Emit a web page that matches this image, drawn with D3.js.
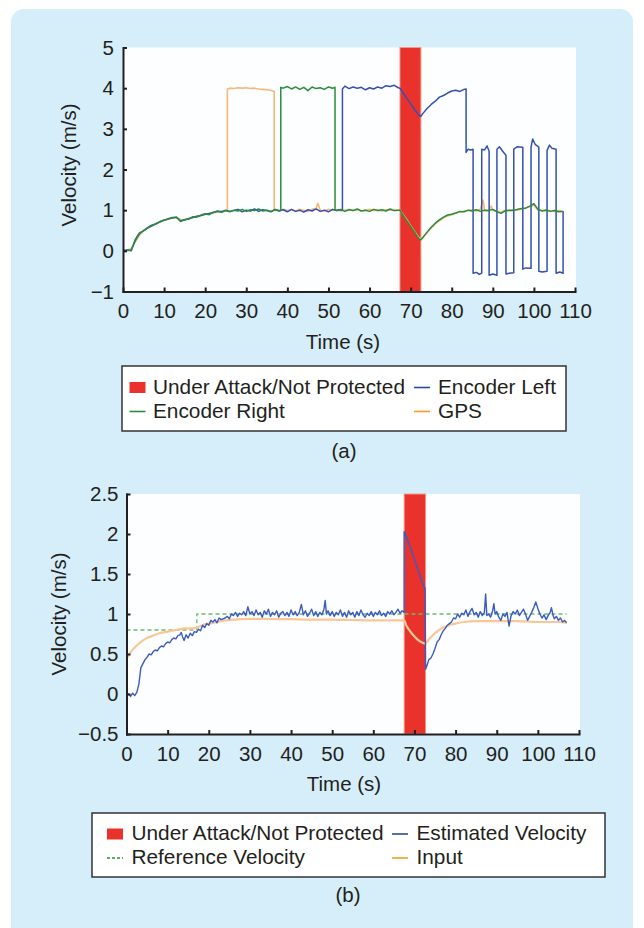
<!DOCTYPE html>
<html>
<head>
<meta charset="utf-8">
<script src="https://cdn.jsdelivr.net/npm/d3@7"></script>
<style>
  body { margin: 0; background: #fff; }
  svg { display: block; font-family: "Liberation Sans", Arial, Helvetica, sans-serif; }
  text { fill: #231f20; }
</style>
</head>
<body>
<div id="fig"></div>
<script>
// ---- data, panel (a) ----
var ticksXA = [0, 10, 20, 30, 40, 50, 60, 70, 80, 90, 100, 110];
var ticksYA = [-1, 0, 1, 2, 3, 4, 5];
var attackA = [67.4, 72.5];
var legendA = ["Under Attack/Not Protected", "Encoder Left", "Encoder Right", "GPS"];

var gpsA = [[0,0.0],[1,0.02],[2,0.06],[3,0.22],[4,0.38],[5,0.49],[6,0.56],[7,0.62],[8,0.67],[9,0.71],[10,0.75],[11,0.78],[12,0.8],[13,0.82],[14,0.77],[15,0.76],[16,0.8],[17,0.82],[18,0.85],[19,0.87],[20,0.9],[21,0.91],[22,0.94],[23,0.95],[24,0.97],[25,0.98],[25.4,0.98],
  [25.4,3.98],[26,4.0],[27,3.99],[28,4.01],[29,4.0],[30,4.01],[31,3.99],[32,4.0],[33,3.98],[34,3.97],[35,3.96],[36,3.95],[36.8,3.92],
  [36.8,0.99],[37,1.0],[38,0.98],[39,1.02],[40,0.99],[41,1.01],[42,0.98],[43,1.02],[44,1.0],[45,0.97],[46,1.02],[47,1.04],[47.4,1.17],[48,1.0],[49,0.98],[50,1.02],[51,0.99],[52,1.01],[53,0.98],[54,1.0],[55,1.02],[56,0.99],[57,1.01],[58,0.98],[59,1.0],[60,1.02],[61,0.99],[62,1.0],[63,0.98],[64,1.01],[65,1.0],[66,0.99],[67,1.0],[67.4,1.0],
  [68,0.92],[69,0.78],[70,0.62],[71,0.47],[72,0.33],[72.5,0.29],[73,0.33],[74,0.44],[75,0.56],[76,0.66],[77,0.74],[78,0.81],[79,0.86],[80,0.89],[81,0.93],[82,0.95],[83,0.97],[84,0.99],[85,1.01],[86,0.98],[87,1.03],[87.6,1.25],[88,1.0],[89,0.98],[89.6,1.1],[90,1.0],[91,0.97],[92,0.95],[93,1.0],[94,0.99],[95,1.01],[96,1.0],[97,1.03],[98,1.06],[99,1.09],[100,1.12],[101,1.0],[102,0.99],[103,1.01],[104,0.98],[105,0.97],[106,0.99],[107,0.98]];

var encLeftA = [[0,0],[1,0.02],[2,0.0],[3,0.28],[4,0.44],[5,0.49],[6,0.57],[7,0.63],[8,0.66],[9,0.72],[10,0.75],[11,0.79],[12,0.82],[13,0.82],[14,0.74],[15,0.76],[16,0.79],[17,0.82],[18,0.85],[19,0.87],[20,0.9],[21,0.92],[22,0.94],[23,0.98],[24,0.96],[25,1.0],[26,0.97],[27,0.99],[28,1.02],[29,0.96],[30,1.0],[31,0.98],[32,1.03],[33,0.97],[34,1.01],[35,0.99],[36,0.96],[37,1.02],[38,0.98],[39,1.01],[40,0.96],[41,1.02],[42,0.97],[43,1.0],[44,0.95],[45,1.01],[46,0.98],[47,1.03],[48,0.97],[49,1.0],[50,0.96],[51,1.02],[52,0.99],[53,1.01],[53.4,1.0],
  [53.4,3.98],[54,4.05],[55,3.99],[56,4.03],[57,4.0],[58,4.02],[59,3.96],[60,4.01],[61,3.98],[62,4.03],[63,4.0],[64,4.06],[65,4.04],[66,4.07],[67,4.01],[67.4,4.0],
  [68,3.9],[69,3.76],[70,3.62],[71,3.47],[72,3.33],[72.5,3.31],[73,3.38],[74,3.5],[75,3.6],[76,3.68],[77,3.78],[78,3.82],[79,3.88],[80,3.93],[81,3.95],[82,3.92],[83,3.97],[83.5,3.98],
  [83.5,2.42],[84,2.5],[84.6,2.48],[85.2,2.5],[85.2,-0.55],[86,-0.53],[86.7,-0.58],[87.3,-0.55],[87.3,2.5],[88,2.48],[88.6,2.58],[89.1,2.45],[89.1,-0.6],[90,-0.57],[91,-0.6],
  [91,2.5],[91.6,2.56],[92.4,2.45],[93.2,2.35],[93.2,-0.57],[94,-0.55],[95.1,-0.54],[95.1,2.5],[96,2.56],[97.3,2.55],[97.3,-0.45],[98,-0.42],[99.3,-0.43],
  [99.3,2.55],[99.7,2.75],[100.3,2.62],[101.2,2.55],[101.2,-0.5],[102,-0.52],[103.2,-0.5],[103.2,2.47],[103.8,2.6],[104.4,2.52],[105.4,2.5],[105.4,-0.55],[106.3,-0.52],[107.1,-0.55],[107.1,0.98]];

var encRightA = [[0,0],[1,0.01],[2,0.02],[3,0.25],[4,0.42],[5,0.5],[6,0.56],[7,0.61],[8,0.67],[9,0.71],[10,0.76],[11,0.78],[12,0.81],[13,0.83],[14,0.72],[15,0.77],[16,0.78],[17,0.84],[18,0.83],[19,0.88],[20,0.91],[21,0.89],[22,0.95],[23,0.97],[24,0.95],[25,0.99],[26,0.96],[27,1.0],[28,0.98],[29,1.02],[30,0.97],[31,1.01],[32,0.99],[33,1.03],[34,0.98],[35,1.0],[36,0.97],[37,1.01],[38,0.99],[38.4,1.0],
  [38.4,4.02],[39,4.0],[40,4.04],[41,3.98],[42,4.03],[43,3.97],[44,4.02],[45,3.94],[46,4.03],[47,3.99],[48,4.01],[49,3.97],[50,4.03],[51,4.0],[51.6,4.02],
  [51.6,1.0],[52,0.99],[53,1.02],[54,0.97],[55,1.01],[56,0.99],[57,1.03],[58,0.98],[59,1.0],[60,0.97],[61,1.02],[62,0.99],[63,1.01],[64,0.98],[65,1.03],[66,0.99],[67,1.0],[67.4,1.0],
  [68,0.9],[69,0.75],[70,0.6],[71,0.45],[72,0.3],[72.5,0.27],[73,0.33],[74,0.46],[75,0.58],[76,0.68],[77,0.76],[78,0.83],[79,0.88],[80,0.9],[81,0.93],[82,0.97],[83,0.96],[84,1.0],[85,0.98],[86,1.01],[87,0.97],[88,1.0],[89,0.99],[90,1.02],[91,0.96],[92,0.92],[93,0.98],[94,1.0],[95,0.99],[96,1.02],[97,1.04],[98,1.05],[99,1.1],[100,1.16],[101,1.02],[102,0.98],[103,1.0],[104,0.97],[105,0.99],[106,0.96],[107,0.97]];

// ---- data, panel (b) ----
var ticksXB = [0, 10, 20, 30, 40, 50, 60, 70, 80, 90, 100, 110];
var ticksYB = [-0.5, 0, 0.5, 1, 1.5, 2, 2.5];
var tickLabelsYB = ["\u22120.5", "0", "0.5", "1", "1.5", "2", "2.5"];
var attackB = [67.5, 72.7];
var legendB = ["Under Attack/Not Protected", "Estimated Velocity", "Reference Velocity", "Input"];

var refVelB = [[0,0.8],[17.1,0.8],[17.1,1.0],[107,1.0]];

var inputB = [[0,0.44],[1,0.52],[2,0.58],[3,0.63],[4,0.67],[5,0.7],[6,0.72],[7,0.74],[8,0.76],[9,0.77],[10,0.78],[11,0.79],[12,0.8],[13,0.81],[14,0.82],[15,0.82],[16,0.82],[17,0.83],[18,0.85],[19,0.87],[20,0.88],[22,0.9],[24,0.92],[26,0.93],[28,0.935],[30,0.94],[35,0.94],[40,0.935],[45,0.93],[50,0.93],[55,0.925],[60,0.92],[65,0.92],[67.5,0.92],
  [68,0.86],[69,0.78],[70,0.72],[71,0.67],[72,0.64],[72.7,0.63],[73,0.65],[74,0.71],[75,0.76],[76,0.8],[77,0.83],[78,0.85],[79,0.87],[80,0.88],[82,0.9],[85,0.91],[90,0.91],[95,0.91],[100,0.9],[105,0.9],[107,0.89]];

var estVelB = [[0,-0.02],[0.5,0.0],[1,-0.03],[1.5,0.01],[2,-0.02],[2.5,0.02],[3,0.12],[3.5,0.33],[4,0.38],[4.5,0.43],[5,0.46],[5.5,0.5],[6,0.49],[6.5,0.53],[7,0.55],[7.5,0.54],[8,0.58],[8.5,0.6],[9,0.59],[9.5,0.63],[10,0.65],[10.5,0.64],[11,0.68],[11.5,0.7],[12,0.69],[12.5,0.73],[13,0.74],[13.3,0.77],[13.6,0.72],[14,0.67],[14.5,0.74],[15,0.7],[15.5,0.76],[16,0.73],[16.5,0.78],[17,0.77],[17.5,0.81],[18,0.79],[18.5,0.86],[19,0.83],[19.5,0.88],[20,0.86],[20.5,0.92],[21,0.9],[21.5,0.93],[22,0.89],[22.5,0.95],[23,0.93],[24,0.95],[24.5,0.97],[25,0.94],[25.5,1.0],
  [26,0.98],[26.5,1.02],[27,0.97],[27.5,1.01],[28,0.99],[28.5,1.03],[29,0.98],[29.5,1.09],[30,1.0],[30.5,1.03],[31,0.98],[31.5,1.05],[32,0.99],[32.5,1.02],[33,0.96],[33.5,1.04],[34,1.0],[34.5,1.06],[35,0.97],[35.5,1.02],[36,0.99],[36.5,1.04],[37,0.96],[37.5,1.01],[38,1.03],[38.5,0.98],[39,1.02],[39.5,0.97],[40,1.05],[40.5,0.99],[41,1.03],[41.5,0.98],[42,1.02],[42.5,1.12],[43,0.99],[43.5,1.04],[44,0.97],[44.5,1.01],[45,1.06],[45.5,0.98],[46,1.03],[46.5,0.97],[47,1.02],[47.5,0.99],[48,1.06],[48.3,1.17],[48.6,1.0],[49,1.04],[49.5,0.98],[50,1.03],[50.5,0.97],[51,1.02],[51.5,0.99],[52,1.05],[52.5,0.97],[53,1.02],[53.5,0.96],[54,1.04],[54.5,0.99],[55,1.02],[55.5,0.96],[56,1.03],[56.5,0.98],[57,1.05],[57.5,0.99],[58,0.96],[58.5,1.01],[59,0.98],[59.5,1.03],[60,0.97],[60.5,1.02],[61,0.99],[61.5,1.04],[62,0.98],[62.5,1.01],[63,0.97],[63.5,1.03],[64,1.0],[64.5,1.04],[65,0.99],[65.5,1.02],[66,1.06],[66.5,1.01],[67,1.04],[67.5,1.02],
  [67.5,2.03],[68,1.97],[68.5,1.9],[69,1.83],[69.5,1.76],[70,1.68],[70.5,1.61],[71,1.53],[71.5,1.45],[72,1.38],[72.6,1.32],[72.7,0.31],[73,0.35],[73.5,0.43],[74,0.45],[74.5,0.5],[75,0.57],[75.5,0.65],[76,0.68],[76.5,0.74],[77,0.79],[77.5,0.82],[78,0.86],[78.5,0.88],[79,0.9],[79.5,0.95],[80,0.94],[80.5,1.0],[81,0.96],[81.5,1.01],[82,0.99],[82.5,1.05],[83,0.97],[83.5,1.03],[84,1.07],[84.5,0.99],[85,1.02],[85.5,0.96],[86,1.03],[86.5,0.98],[87,1.02],[87.3,1.25],[87.6,0.98],[88,1.0],[88.5,0.96],[89,1.04],[89.3,1.13],[89.6,1.0],[90,1.03],[90.5,0.96],[91,0.92],[91.5,1.0],[92,0.97],[92.5,1.02],[93,0.85],[93.5,0.98],[94,1.03],[94.5,1.0],[95,1.05],[95.5,0.98],[96,1.02],[96.5,1.06],[97,1.0],[97.5,0.92],[98,0.97],[98.5,1.02],[99,1.08],[99.5,1.15],[100,1.07],[100.5,1.0],[101,0.95],[101.5,0.99],[102,0.93],[102.5,0.98],[103,1.02],[103.3,1.08],[103.7,0.98],[104,0.94],[104.5,0.97],[105,0.92],[105.5,0.95],[106,0.9],[106.5,0.92],[107,0.89]];

// ---- drawing ----
var W = 644, H = 928;
var ink = "#231f20", red = "#e9322b";

var svg = d3.select("#fig").append("svg").attr("width", W).attr("height", H);

// blue page panel
svg.append("rect").attr("x", 11).attr("y", 9).attr("width", 622).attr("height", 940)
  .attr("rx", 13).attr("fill", "#d5eef9");

function panel(opt) {
  var x = opt.x, y = opt.y;
  var g = svg.append("g");
  var x0 = x.range()[0], x1 = x.range()[1];
  var yTop = y.range()[1], yBot = y.range()[0];

  // white plot background
  g.append("rect").attr("x", x0).attr("y", yTop).attr("width", x1 - x0 + 1).attr("height", yBot - yTop)
    .attr("fill", "#fdfeff");

  // attack band
  g.append("rect").attr("x", x(opt.attack[0])).attr("y", yTop)
    .attr("width", x(opt.attack[1]) - x(opt.attack[0])).attr("height", yBot - yTop)
    .attr("fill", red).attr("stroke", "#f29b86").attr("stroke-width", 1);

  var line = d3.line().x(function(d) { return x(d[0]); }).y(function(d) { return y(d[1]); });

  opt.series.forEach(function(s) {
    g.append("path").datum(s.data)
      .attr("d", line.curve(s.curve || d3.curveLinear)(s.data))
      .attr("fill", "none")
      .attr("stroke", s.color)
      .attr("stroke-width", s.width)
      .attr("stroke-dasharray", s.dash || null)
      .attr("stroke-linejoin", "round");
  });

  // axes
  var ax = g.append("g").attr("transform", "translate(0," + yBot + ")")
    .call(d3.axisBottom(x).tickValues(opt.ticksX).tickSizeInner(-4).tickSizeOuter(0).tickPadding(12));
  var ay = g.append("g").attr("transform", "translate(" + x0 + ",0)")
    .call(d3.axisLeft(y).tickValues(opt.ticksY).tickSizeInner(-4).tickSizeOuter(0).tickPadding(opt.padY)
      .tickFormat(opt.fmtY));
  [ax, ay].forEach(function(a) {
    a.select(".domain").attr("stroke", ink).attr("stroke-width", 2).attr("stroke-linecap", "square");
    a.selectAll(".tick line").attr("stroke", ink).attr("stroke-width", 2);
    a.selectAll(".tick text").attr("fill", ink).style("font-size", "20.5px")
      .style("font-family", "'Liberation Sans', Arial, sans-serif");
  });

  // axis titles
  g.append("text").attr("x", opt.titleX[0]).attr("y", opt.titleX[1])
    .attr("text-anchor", "middle").style("font-size", "20.5px").text("Time (s)");
  g.append("text").attr("transform", "translate(" + opt.titleY[0] + "," + opt.titleY[1] + ") rotate(-90)")
    .attr("text-anchor", "middle").style("font-size", "20.5px").text("Velocity (m/s)");

  // legend
  var L = opt.legend;
  g.append("rect").attr("x", L.box[0]).attr("y", L.box[1]).attr("width", L.box[2]).attr("height", L.box[3])
    .attr("fill", "#fff").attr("stroke", "#333").attr("stroke-width", 1.5);
  opt.legendLabels.forEach(function(lbl, i) {
    var col = i % 2, row = Math.floor(i / 2);
    var mx = L.markX[col], tx = L.textX[col], by = L.rowY[row];
    var st = opt.legendStyle[i];
    if (st.type === "rect") {
      g.append("rect").attr("x", mx).attr("y", by - 11.5).attr("width", 16).attr("height", 11).attr("fill", st.color);
    } else {
      g.append("line").attr("x1", mx).attr("x2", mx + 16).attr("y1", by - 6).attr("y2", by - 6)
        .attr("stroke", st.color).attr("stroke-width", 1.6).attr("stroke-dasharray", st.dash || null);
    }
    g.append("text").attr("x", tx).attr("y", by).style("font-size", "20.8px").text(lbl);
  });

  g.append("text").attr("x", opt.caption[0]).attr("y", opt.caption[1]).attr("text-anchor", "middle")
    .style("font-size", "20.5px").text(opt.caption[2]);
}

var xA = d3.scaleLinear().domain([0, 110]).range([123, 575]);
var yA = d3.scaleLinear().domain([-1, 5]).range([291.5, 47.5]);

panel({
  x: xA, y: yA, attack: attackA, ticksX: ticksXA, ticksY: ticksYA, padY: 9,
  fmtY: d3.format("d"),
  series: [
    {data: gpsA, color: "#f6b877", width: 1.6},
    {data: encLeftA, color: "#3451b2", width: 1.5},
    {data: encRightA, color: "#2a8d3c", width: 1.5}
  ],
  titleX: [343, 348.5], titleY: [76, 165],
  legendLabels: legendA,
  legendStyle: [{type: "rect", color: red}, {color: "#2d4b9e"}, {color: "#2e8b3a"}, {color: "#f39c1f"}],
  legend: {box: [122, 366, 444, 65], markX: [129.5, 414], textX: [153, 438], rowY: [393.5, 417.5]},
  caption: [344, 457.5, "(a)"]
});

var xB = d3.scaleLinear().domain([0, 110]).range([126.5, 579]);
var yB = d3.scaleLinear().domain([-0.5, 2.5]).range([734, 494]);

panel({
  x: xB, y: yB, attack: attackB, ticksX: ticksXB, ticksY: ticksYB, padY: 8,
  fmtY: function(d, i) { return tickLabelsYB[i]; },
  series: [
    {data: refVelB, color: "#6dbb6b", width: 1.3, dash: "4,3"},
    {data: inputB, color: "#f8c796", width: 2.2, curve: d3.curveMonotoneX},
    {data: estVelB, color: "#3a5bc0", width: 1.4}
  ],
  titleX: [344, 791], titleY: [66, 614],
  legendLabels: legendB,
  legendStyle: [{type: "rect", color: red}, {color: "#2d4b9e"}, {color: "#2e8b3a", dash: "3,2"}, {color: "#f39c1f"}],
  legend: {box: [92, 813, 513, 64], markX: [107, 392], textX: [131.5, 416.5], rowY: [840, 864]},
  caption: [348, 901.5, "(b)"]
});
</script>
</body>
</html>
